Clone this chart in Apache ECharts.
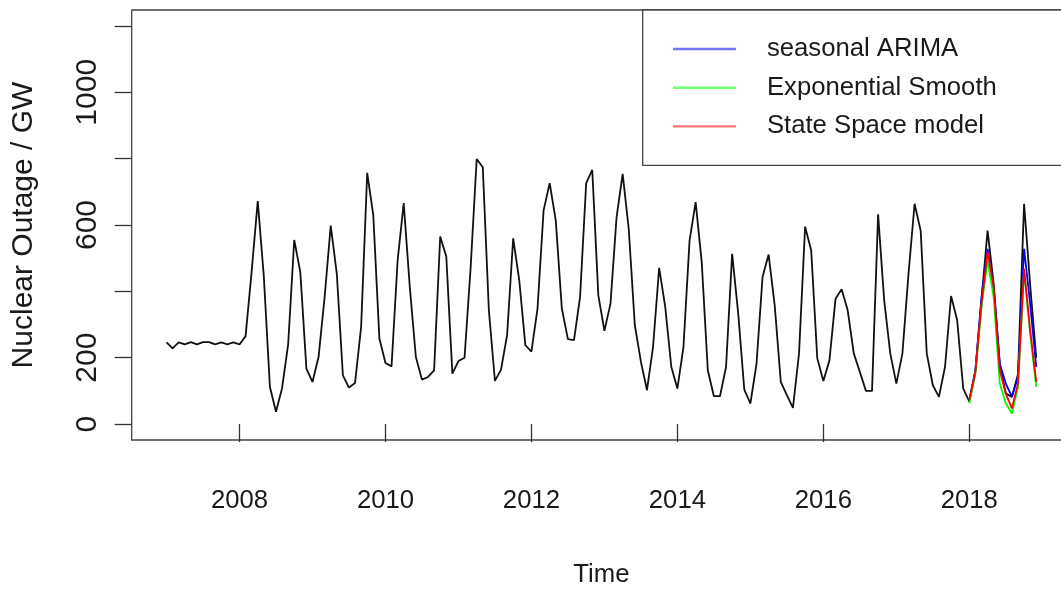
<!DOCTYPE html>
<html>
<head>
<meta charset="utf-8">
<title>Nuclear Outage forecast</title>
<script src="https://cdn.jsdelivr.net/npm/echarts@6/dist/echarts.min.js"></script>
<style>
	html, body { margin: 0; padding: 0; background: #fff; }
	#chart { width: 1061px; height: 589px; }
</style>
</head>
<body>
<div id="chart"></div>
<script>
// monthly series, Jan 2007 .. Dec 2018
var startYear = 2007;
var outage = [
	246, 228, 246, 240, 247, 240, 247, 247, 240, 246, 240, 246,   // 2007
	240, 265, 460, 672, 445, 112,  37, 108, 240, 555, 458, 167,   // 2008
	127, 202, 383, 598, 453, 147, 110, 124, 293, 757, 629, 258,   // 2009
	184, 174, 493, 666, 413, 202, 134, 142, 162, 565, 505, 152,   // 2010
	190, 200, 470, 799, 774, 343, 130, 164, 268, 560, 433, 238,   // 2011
	218, 348, 644, 726, 614, 348, 256, 253, 383, 726, 766, 388,   // 2012
	281, 363, 624, 754, 588, 298, 188, 102, 233, 471, 353, 172,   // 2013
	107, 233, 553, 669, 488, 162,  84,  84, 172, 513, 333, 104,   // 2014
	 62, 180, 443, 511, 358, 127,  87,  49, 213, 595, 523, 198,   // 2015
	130, 192, 378, 406, 343, 213, 157, 100, 100, 632, 373, 213,   // 2016
	122, 213, 453, 664, 583, 213, 117,  82, 172, 386, 313, 107,   // 2017
	 68, 162, 373, 583, 423, 182,  92,  82, 150, 664, 420, 200    // 2018
];

// forecasts for 2018, Jan .. Dec
var forecastStart = 2018;
var arimaFc = [72, 162, 383, 528, 413, 182, 122, 82, 142, 528, 363, 172];
var etsFc   = [62, 152, 353, 493, 383, 122,  62, 32, 112, 463, 273, 112];
var ssFc    = [72, 157, 363, 518, 413, 162,  92, 47, 122, 468, 283, 127];

var xTicks = [2008, 2010, 2012, 2014, 2016, 2018];
var yTicks = [0, 200, 400, 600, 800, 1000, 1200];
var yLabels = [0, 200, 600, 1000];
var legendNames = ['seasonal ARIMA', 'Exponential Smooth', 'State Space model'];

function monthly(start, values) {
	return values.map(function (v, i) {
		return [start + i / 12, v];
	});
}

var sans = "'Liberation Sans', Arial, Helvetica, sans-serif";
var textColor = '#1a1a1a';

var chart = echarts.init(document.getElementById('chart'), null, { renderer: 'canvas' });

var option = {
	animation: false,
	backgroundColor: '#fff',
	grid: {
		show: true,
		left: 131.7,
		top: 10,
		bottom: 149,
		right: -10,
		outerBoundsMode: 'none',
		containLabel: false,
		borderColor: '#444',
		borderWidth: 1.3
	},
	legend: {
		orient: 'vertical',
		left: 642.7,
		top: 10,
		padding: [24, 90, 24, 29],
		itemWidth: 63,
		itemHeight: 30,
		itemGap: 8.7,
		borderColor: '#444',
		borderWidth: 1.3,
		backgroundColor: '#fff',
		itemStyle: { opacity: 0 },
		lineStyle: { width: 2.4, opacity: 0.55 },
		textStyle: {
			fontFamily: sans,
			fontSize: 25.7,
			lineHeight: 30,
			color: textColor,
			padding: [0, 0, 0, 26]
		},
		data: legendNames
	},
	xAxis: {
		type: 'value',
		min: 2006.523,
		max: 2019.393,
		name: 'Time',
		nameLocation: 'middle',
		nameGap: 122,
		nameTextStyle: { fontFamily: sans, fontSize: 25.7, color: textColor },
		axisLine: { show: false },
		splitLine: { show: false },
		axisTick: {
			show: true,
			length: 18,
			customValues: xTicks,
			lineStyle: { color: '#333', width: 1.3 }
		},
		axisLabel: {
			customValues: xTicks,
			margin: 48,
			fontFamily: sans,
			fontSize: 25.7,
			color: textColor,
			formatter: function (v) { return String(v); }
		}
	},
	yAxis: {
		type: 'value',
		min: -48,
		max: 1248,
		name: 'Nuclear Outage / GW',
		nameLocation: 'middle',
		nameRotate: 90,
		nameGap: 93,
		nameTextStyle: { fontFamily: sans, fontSize: 30, color: textColor },
		axisLine: { show: false },
		splitLine: { show: false },
		axisTick: {
			show: true,
			length: 17,
			customValues: yTicks,
			lineStyle: { color: '#333', width: 1.3 }
		},
		axisLabel: {
			customValues: yLabels,
			rotate: 90,
			margin: 29,
			fontFamily: sans,
			fontSize: 30,
			color: textColor,
			formatter: function (v) { return String(v); }
		}
	},
	series: [{
		name: 'Outage',
		type: 'line',
		symbol: 'none',
		lineStyle: { color: '#111', width: 1.8 },
		data: monthly(startYear, outage)
	}, {
		name: legendNames[0],
		type: 'line',
		symbol: 'none',
		color: '#0000ff',
		lineStyle: { color: '#0000ff', width: 1.8 },
		data: monthly(forecastStart, arimaFc)
	}, {
		name: legendNames[1],
		type: 'line',
		symbol: 'none',
		color: '#00ff00',
		lineStyle: { color: '#00ff00', width: 1.8 },
		data: monthly(forecastStart, etsFc)
	}, {
		name: legendNames[2],
		type: 'line',
		symbol: 'none',
		color: '#ff0000',
		lineStyle: { color: '#ff0000', width: 1.8 },
		data: monthly(forecastStart, ssFc)
	}]
};

chart.setOption(option);
</script>
</body>
</html>
